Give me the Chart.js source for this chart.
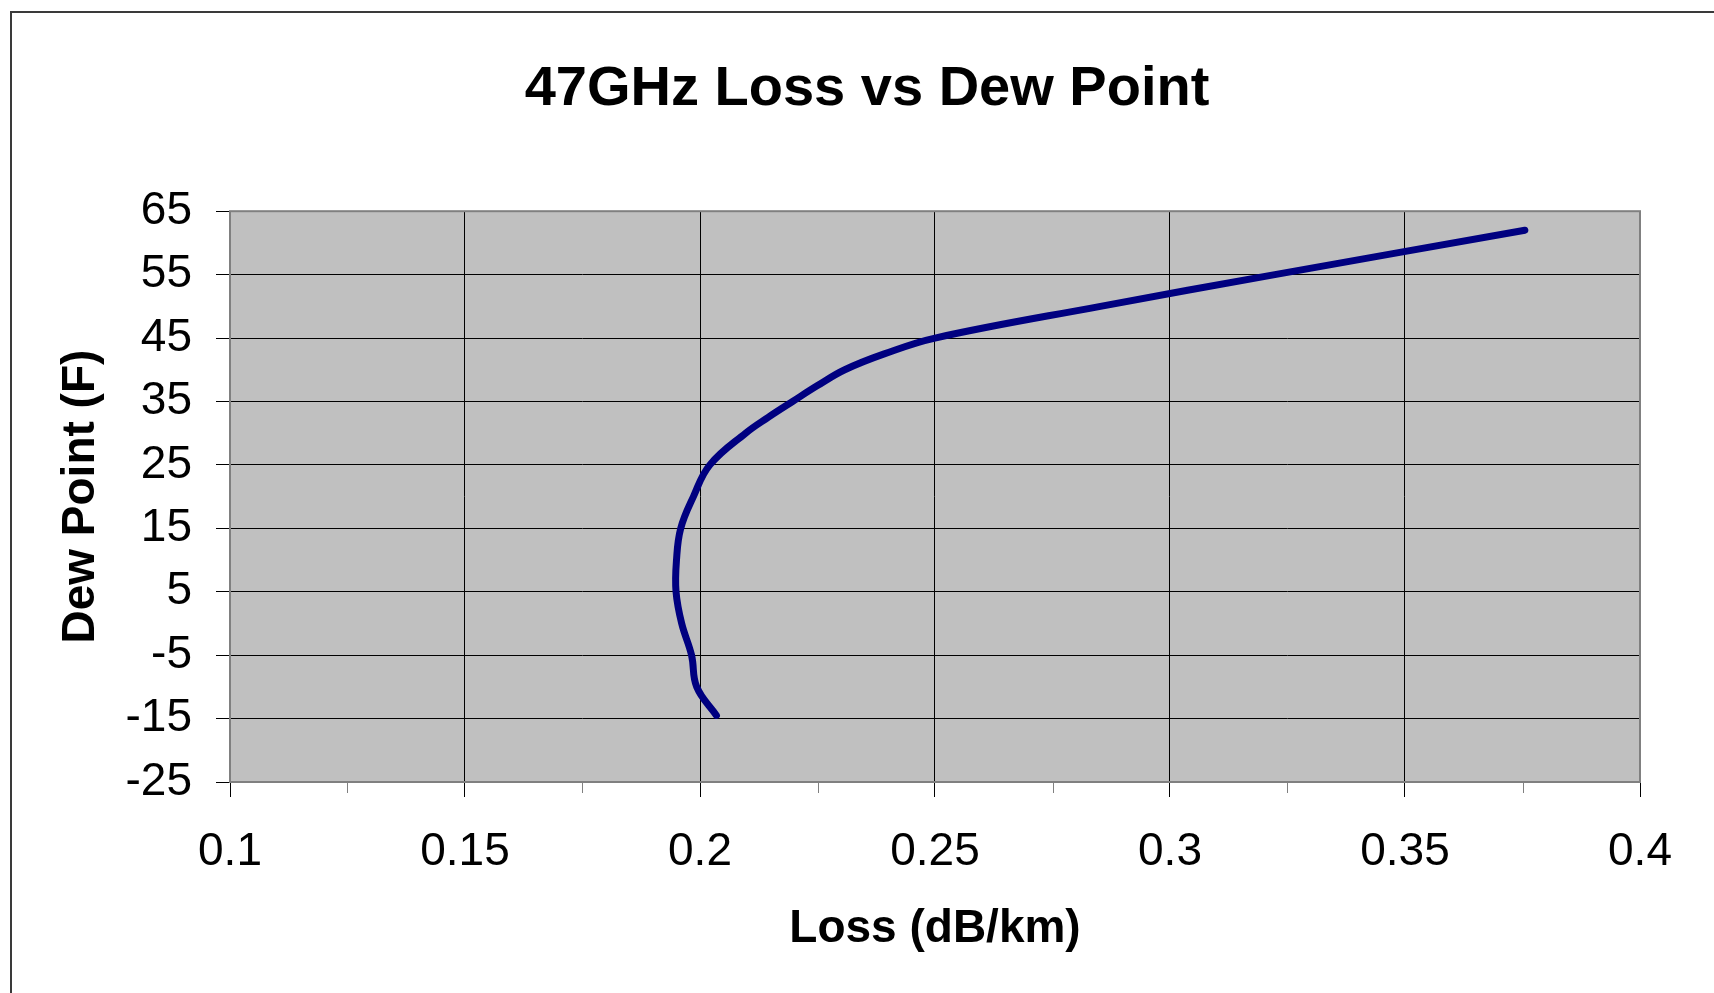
<!DOCTYPE html>
<html>
<head>
<meta charset="utf-8">
<script src="https://cdn.jsdelivr.net/npm/chart.js@4.4.1/dist/chart.umd.min.js"></script>
<style>
  html, body { margin: 0; padding: 0; background: #fff; }
  #wrap { width: 1714px; height: 993px; position: relative; }
</style>
</head>
<body>
<div id="wrap"><canvas id="lossChart"></canvas></div>
<script>
// values
const dewPoint = [-14.5, -10, -5, 0, 5, 10, 15, 20, 25, 30, 32.5, 35, 37.5, 40, 42.5, 45, 50, 55, 62];
const loss = [0.2035, 0.1993, 0.1982, 0.1961, 0.1949, 0.195, 0.1959, 0.1986, 0.2021, 0.2097, 0.2145, 0.2197, 0.225, 0.2308, 0.2392, 0.25, 0.2852, 0.3223, 0.3755];
const xTicks = [0.1, 0.15, 0.2, 0.25, 0.3, 0.35, 0.4];
const xMinorTicks = [0.125, 0.175, 0.225, 0.275, 0.325, 0.375];
const yTicks = [-25, -15, -5, 5, 15, 25, 35, 45, 55, 65];

const FONT = "Liberation Sans, Arial, sans-serif";

const excelLook = {
  id: "excelLook",
  beforeDraw(chart) {
    const { ctx, chartArea: a } = chart;
    ctx.save();
    ctx.fillStyle = "#fff";
    ctx.fillRect(0, 0, chart.width, chart.height);
    // outer chart border (left + top only visible)
    ctx.strokeStyle = "#3a3a3a";
    ctx.lineWidth = 2;
    ctx.beginPath();
    ctx.moveTo(11, chart.height);
    ctx.lineTo(11, 12);
    ctx.lineTo(chart.width, 12);
    ctx.stroke();
    // plot area
    ctx.fillStyle = "#c0c0c0";
    ctx.fillRect(a.left, a.top, a.right - a.left, a.bottom - a.top);
    ctx.restore();
  },
  afterDatasetsDraw(chart) {
    const { ctx, chartArea: a } = chart;
    const x = chart.scales.x;
    ctx.save();
    ctx.strokeStyle = "#808080";
    ctx.lineWidth = 2;
    ctx.strokeRect(a.left, a.top, a.right - a.left, a.bottom - a.top);
    ctx.lineWidth = 1;
    ctx.beginPath();
    xMinorTicks.forEach((v) => {
      const px = Math.round(x.getPixelForValue(v)) + 0.5;
      ctx.moveTo(px, a.bottom);
      ctx.lineTo(px, a.bottom + 11);
    });
    ctx.stroke();
    ctx.restore();
  },
};

new Chart(document.getElementById("lossChart"), {
  type: "line",
  data: {
    datasets: [
      {
        label: "47GHz",
        data: loss.map((v, i) => ({ x: v, y: dewPoint[i] })),
        borderColor: "#000080",
        borderWidth: 7,
        borderCapStyle: "round",
        borderJoinStyle: "round",
        pointRadius: 0,
        tension: 0.4,
        fill: false,
      },
    ],
  },
  options: {
    responsive: true,
    maintainAspectRatio: false,
    animation: false,
    layout: { padding: { left: 20, right: 0, top: 0, bottom: 0 } },
    plugins: {
      legend: { display: false },
      tooltip: { enabled: false },
      title: {
        display: true,
        text: "47GHz Loss vs Dew Point",
        color: "#000",
        font: { family: FONT, size: 56, weight: "bold", lineHeight: 1.2 },
        padding: { top: 56, bottom: 88 },
      },
    },
    scales: {
      x: {
        type: "linear",
        min: 0.1,
        max: 0.4,
        afterBuildTicks: (s) => { s.ticks = xTicks.map((v) => ({ value: v })); },
        afterFit: (s) => { s.height = 211; },
        ticks: {
          color: "#000",
          padding: 28,
          maxRotation: 0,
          font: { family: FONT, size: 46 },
          callback: (v) => String(v),
        },
        grid: { color: "#000", lineWidth: 1, tickLength: 15 },
        border: { display: false },
        title: {
          display: true,
          text: "Loss (dB/km)",
          color: "#000",
          font: { family: FONT, size: 46, weight: "bold", lineHeight: 1.2 },
          padding: { top: 0, bottom: 36 },
        },
      },
      y: {
        type: "linear",
        min: -25,
        max: 65,
        afterBuildTicks: (s) => { s.ticks = yTicks.map((v) => ({ value: v })); },
        afterFit: (s) => { s.width = 210; },
        ticks: {
          color: "#000",
          padding: 24,
          font: { family: FONT, size: 46 },
        },
        grid: { color: "#000", lineWidth: 1, tickLength: 14 },
        border: { display: false },
        title: {
          display: true,
          text: "Dew Point (F)",
          color: "#000",
          font: { family: FONT, size: 46, weight: "bold", lineHeight: 1.2 },
          padding: { top: 34, bottom: 0 },
        },
      },
      y2: {
        type: "linear",
        position: "right",
        afterFit: (s) => { s.width = 74; },
        ticks: { display: false },
        grid: { display: false, drawTicks: false },
        border: { display: false },
      },
    },
  },
  plugins: [excelLook],
});
</script>
</body>
</html>
